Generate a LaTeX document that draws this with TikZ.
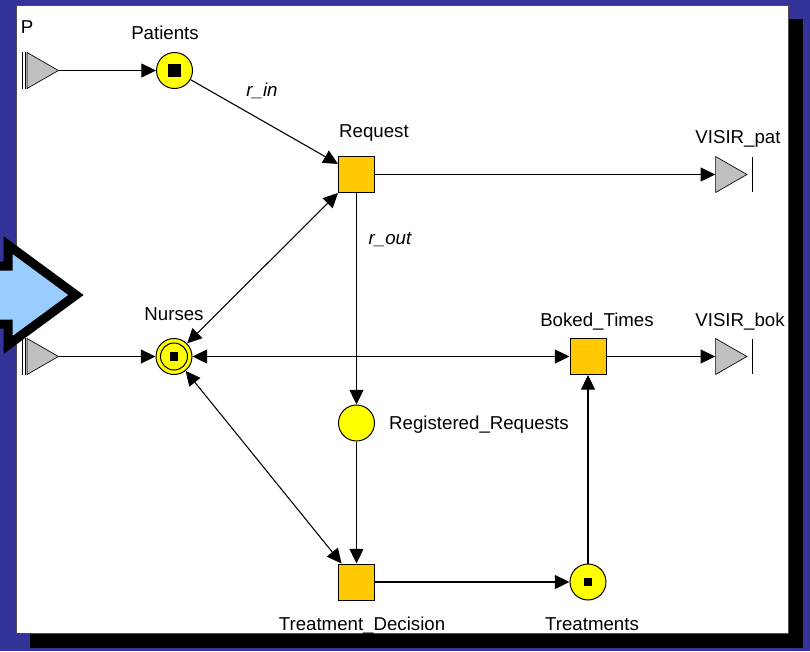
\documentclass[tikz,border=0pt]{standalone}
\usepackage{fontspec}
\setmainfont{Liberation Sans}
\usetikzlibrary{arrows.meta,shapes.geometric}

\definecolor{slideblue}{RGB}{51,51,153}
\definecolor{arrowblue}{RGB}{153,204,255}
\definecolor{placeyellow}{RGB}{255,255,0}
\definecolor{transorange}{RGB}{255,200,0}
\definecolor{portgray}{RGB}{192,192,192}

\tikzset{
  place/.style={circle,draw,fill=placeyellow,inner sep=0pt,minimum size=27pt,line width=0.75pt},
  transition/.style={rectangle,draw,fill=transorange,inner sep=0pt,minimum size=27pt,line width=0.75pt},
  port/.style={isosceles triangle,isosceles triangle stretches,draw,fill=portgray,inner sep=0pt,
    minimum width=27pt,minimum height=23.5pt,line width=0.5pt},
  token/.style={rectangle,fill=black,inner sep=0pt,minimum size=7pt},
  arc/.style={line width=0.8pt,-{Triangle[length=11pt,width=10.5pt]}},
  biarc/.style={line width=0.8pt,{Triangle[length=11pt,width=10.5pt]}-{Triangle[length=11pt,width=10.5pt]}},
  lbl/.style={font=\fontsize{14}{16}\selectfont,inner sep=0pt,anchor=base},
}

\begin{document}
\begin{tikzpicture}[x=0.75pt,y=0.75pt,yscale=-1,xscale=1]
\useasboundingbox (0,0) rectangle (810,651);
    %Shape: slide background
    \fill[slideblue] (0,0) rectangle (810,651);
    %Shape: panel shadow
    \fill[black] (30,19) rectangle (803,648);
    %Shape: panel
    \draw[fill=white,draw=black!70,line width=0.75pt] (16,5) rectangle (788,633);

    % Places and transitions
    \node[port] (psrc) at (37.5,70.5) {};
    \node[place] (patients) at (174.5,70.5) {};
    \node[token,minimum size=10pt] (tokpat) at (patients) {};
    \node[transition] (request) at (356.5,174.5) {};
    \node[port] (vpat) at (726,174.5) {};
    \node[port] (nsrc) at (37.5,356.5) {};
    \node[place] (nurses) at (174,356.5) {};
    \node[token,minimum size=6.5pt] (toknur) at (nurses) {};
    \node[transition] (boked) at (588,356.5) {};
    \node[port] (vbok) at (726,356.5) {};
    \node[place] (regreq) at (356.5,423) {};
    \node[transition] (tdec) at (356.5,582) {};
    \node[place] (treat) at (588,582) {};
    \node[token,minimum size=6pt] (toktreat) at (treat) {};

    %Shape: Nurses inner ring
    \draw[line width=0.75pt] (nurses) circle[radius=13.5];
    %Straight Lines: port bars
    \draw[line width=0.75pt] (22,52) -- (22,89);
    \draw[line width=0.75pt] (25,52) -- (25,89);
    \draw[line width=0.75pt] (22,338) -- (22,375);
    \draw[line width=0.75pt] (25,338) -- (25,375);
    \draw[line width=0.75pt] (752,157) -- (752,192);
    \draw[line width=0.75pt] (752,339) -- (752,374);

    % Arcs
    \draw[arc] (psrc.apex) -- (patients);
    \draw[arc] (patients) -- (request);
    \draw[arc] (request) -- (vpat);
    \draw[arc] (request) -- (regreq);
    \draw[biarc] (nurses) -- (request);
    \draw[arc] (nsrc.apex) -- (nurses);
    \draw[biarc] (nurses) -- (boked);
    \draw[arc] (boked) -- (vbok);
    \draw[arc] (regreq) -- (tdec);
    \draw[biarc] (nurses) -- (tdec);
    \draw[arc] (tdec) -- (treat);
    \draw[arc] (treat) -- (boked);

    % Text Node
    \node[lbl] (lblp) at (27,33) {P};
    \node[lbl] (lblpatients) at (165,39) {Patients};
    \node[lbl] (lblrin) at (262,96) {\itshape r\_in};
    \node[lbl] (lblrequest) at (374,137) {Request};
    \node[lbl] (lblvpat) at (738,143) {VISIR\_pat};
    \node[lbl] (lblrout) at (390,244) {\itshape r\_out};
    \node[lbl] (lblnurses) at (174,320) {Nurses};
    \node[lbl] (lblboked) at (597,326) {Boked\_Times};
    \node[lbl] (lblvbok) at (740,326) {VISIR\_bok};
    \node[lbl] (lblregreq) at (479,429) {Registered\_Requests};
    \node[lbl] (lbltdec) at (362,630) {Treatment\_Decision};
    \node[lbl] (lbltreat) at (592,630) {Treatments};

    %Shape: slide arrow
    \draw[fill=arrowblue,line width=6.75pt,miter limit=10] (-20,266) -- (8,266) -- (8,245) -- (76,295) -- (8,345) -- (8,324) -- (-20,324) -- cycle;
\end{tikzpicture}
\end{document}
